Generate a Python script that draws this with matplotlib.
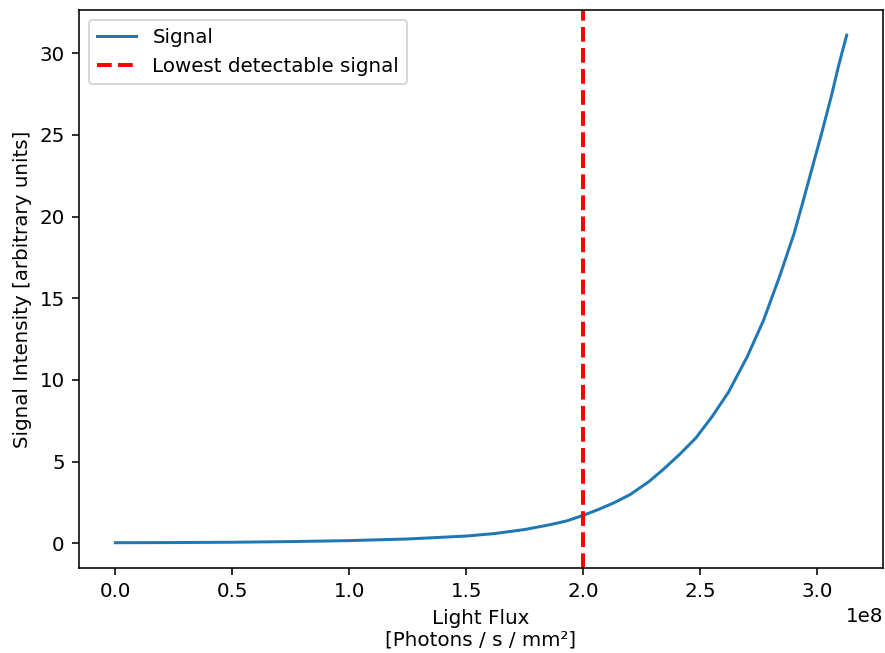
import numpy as np
import matplotlib
matplotlib.use('Agg')
import matplotlib.pyplot as plt

# light flux in units of 1e8 photons / s / mm^2
flux = np.array([0.00, 0.25, 0.50, 0.75, 1.00, 1.25, 1.50, 1.62, 1.75, 1.86,
                 1.93, 2.00, 2.06, 2.13, 2.20, 2.28, 2.34, 2.41, 2.48, 2.55,
                 2.62, 2.70, 2.77, 2.84, 2.90, 2.94, 2.98, 3.02, 3.06, 3.09,
                 3.125]) * 1e8
signal = [0.04, 0.05, 0.07, 0.11, 0.17, 0.27, 0.45, 0.60, 0.85, 1.15,
          1.38, 1.72, 2.05, 2.48, 2.99, 3.78, 4.51, 5.43, 6.44, 7.76,
          9.25, 11.42, 13.66, 16.40, 18.95, 21.0, 23.1, 25.2, 27.4, 29.2,
          31.1]
threshold = 2e8

fig, ax = plt.subplots(figsize=(885 / 143, 653 / 143), dpi=143)
ax.plot(flux, signal, label='Signal')
ax.axvline(threshold, color='red', linestyle='--', linewidth=2, label='Lowest detectable signal')
ax.set_xlabel('Light Flux\n[Photons / s / mm²]')
ax.set_ylabel('Signal Intensity [arbitrary units]')
ax.legend(loc='upper left')

plt.subplots_adjust(left=0.089, right=0.998, top=0.985, bottom=0.13)
plt.savefig('out.png')
